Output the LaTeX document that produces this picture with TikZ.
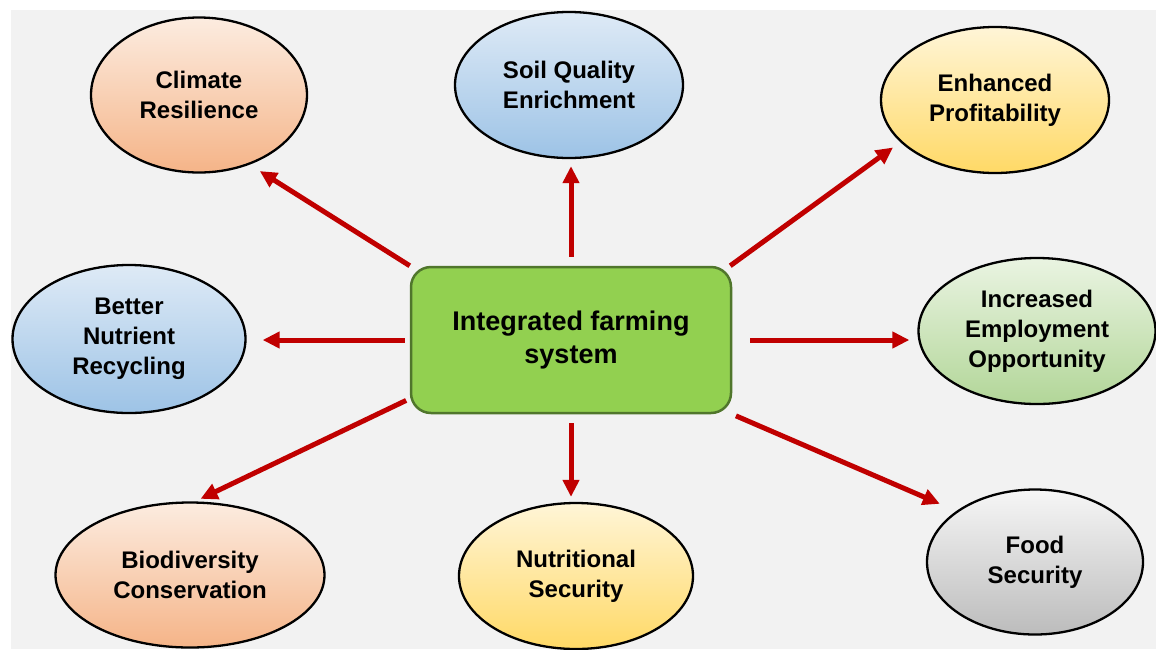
\documentclass[tikz,border=0pt]{standalone}
\usepackage{fontspec}
\setmainfont{Liberation Sans}
\usepackage{tikz}
\usetikzlibrary{shapes.geometric, arrows.meta, positioning, calc}
\definecolor{arrowRed}{RGB}{192, 0, 0}
\definecolor{hubFg}{RGB}{80, 118, 44}
\definecolor{hubBg}{RGB}{146, 208, 80}
\definecolor{bgGrey}{RGB}{242, 242, 242}
\definecolor{orangeTop}{RGB}{252, 236, 224}
\definecolor{orangeBot}{RGB}{245, 180, 136}
\definecolor{blueTop}{RGB}{222, 234, 246}
\definecolor{blueBot}{RGB}{157, 195, 230}
\definecolor{yellowTop}{RGB}{255, 245, 215}
\definecolor{yellowBot}{RGB}{255, 217, 102}
\definecolor{greenTop}{RGB}{234, 244, 226}
\definecolor{greenBot}{RGB}{178, 214, 152}
\definecolor{greyTop}{RGB}{246, 246, 246}
\definecolor{greyBot}{RGB}{188, 188, 188}
\tikzstyle{arrow} = [line width=5pt, draw=arrowRed, -{Triangle[length=17pt,width=16pt]}]
\tikzstyle{goal} = [ellipse, draw=black, line width=2.3pt, inner sep=0pt, align=center, text=black, font=\bfseries\fontsize{24}{30}\selectfont]
\tikzstyle{hub} = [rectangle, rounded corners=20pt, draw=hubFg, line width=2.5pt, fill=hubBg, minimum width=320pt, minimum height=146pt, align=center, text=black, font=\bfseries\fontsize{27}{33}\selectfont]
\tikzstyle{orangestyle} = [top color=orangeTop, bottom color=orangeBot]
\tikzstyle{bluestyle} = [top color=blueTop, bottom color=blueBot]
\tikzstyle{yellowstyle} = [top color=yellowTop, bottom color=yellowBot]
\tikzstyle{greenstyle} = [top color=greenTop, bottom color=greenBot]
\tikzstyle{greystyle} = [top color=greyTop, bottom color=greyBot]

\begin{document}
\begin{tikzpicture}[x=1pt, y=-1pt]

\useasboundingbox (0,0) rectangle (1156,649);
\fill[white] (0,0) rectangle (1156,649);
\fill[bgGrey] (11,10) rectangle (1156,649);

\node (ifs) [hub] at (571,340) {Integrated farming\\system};

\node (climate) [goal, orangestyle, minimum width=216pt, minimum height=155pt] at (199,95) {Climate\\Resilience};
\node (soil) [goal, bluestyle, minimum width=228pt, minimum height=146pt] at (569,85) {Soil Quality\\Enrichment};
\node (profit) [goal, yellowstyle, minimum width=228pt, minimum height=146pt] at (995,100) {Enhanced\\Profitability};
\node (nutrient) [goal, bluestyle, minimum width=233pt, minimum height=148pt] at (129,339) {Better\\Nutrient\\Recycling};
\node (employ) [goal, greenstyle, minimum width=237pt, minimum height=146pt] at (1037,331) {Increased\\Employment\\Opportunity};
\node (biodiv) [goal, orangestyle, minimum width=269pt, minimum height=145pt] at (190,575) {Biodiversity\\Conservation};
\node (nutri) [goal, yellowstyle, minimum width=234pt, minimum height=146pt] at (576,576) {Nutritional\\Security};
\node (food) [goal, greystyle, minimum width=216pt, minimum height=145pt] at (1035,562) {Food\\Security};

\draw [arrow, shorten >=12pt] (ifs.north west) -- (climate.-54);
\draw [arrow, shorten <=9pt, shorten >=7pt] (ifs.north) -- (ifs.north |- soil.south);
\draw [arrow, shorten >=9pt] (ifs.25) -- (profit.204);
\draw [arrow, shorten <=5pt, shorten >=16pt] (ifs.west) -- (ifs.west -| nutrient.east);
\draw [arrow, shorten <=18pt, shorten >=8pt] (ifs.east) -- (ifs.east -| employ.west);
\draw [arrow, shorten <=4pt, shorten >=6pt] (ifs.200) -- (biodiv.86);
\draw [arrow, shorten <=9pt, shorten >=5pt] (ifs.south) -- (ifs.south |- nutri.north);
\draw [arrow, shorten <=4pt, shorten >=18pt] (ifs.south east) -- (food.147);

\end{tikzpicture}
\end{document}
